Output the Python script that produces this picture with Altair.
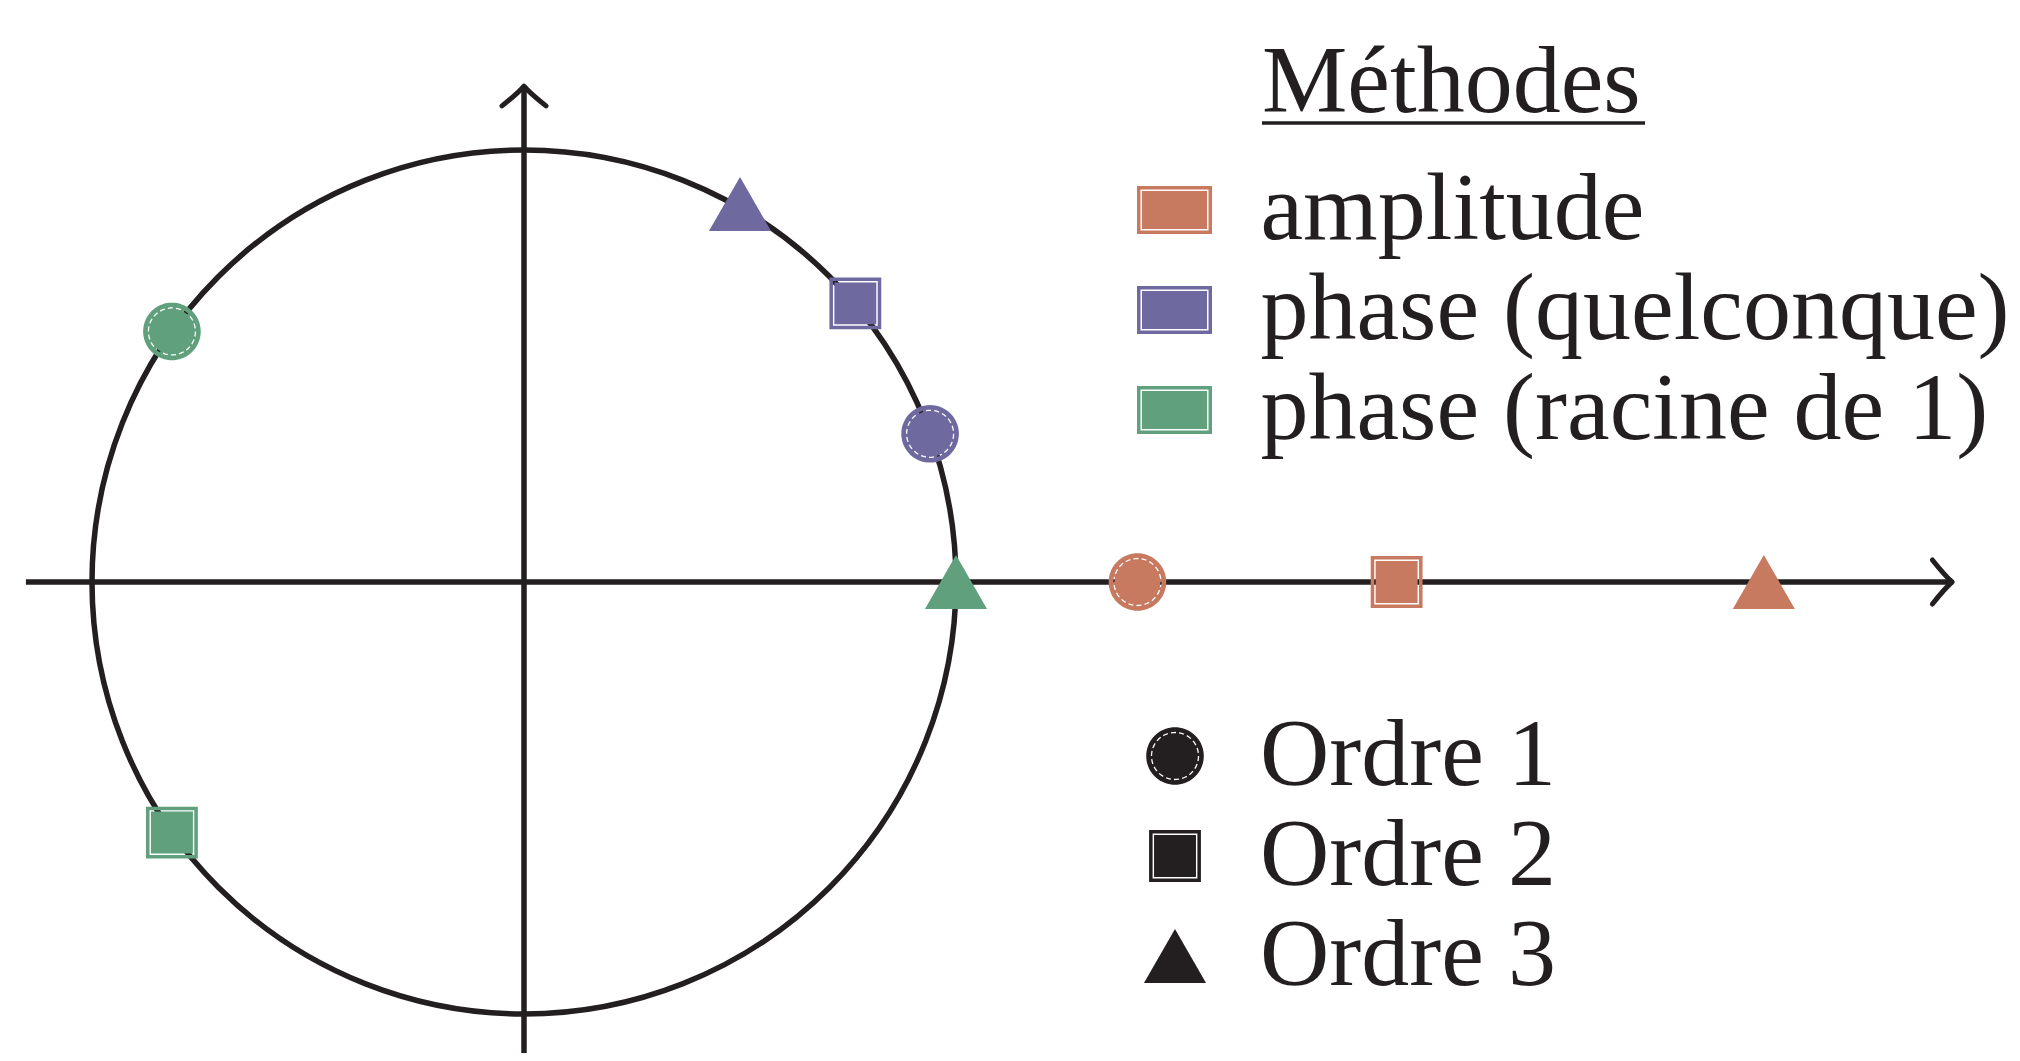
import altair as alt
import numpy as np
import pandas as pd

# ---- data (unit circle coordinates) ----
methodes = ["amplitude"] * 3 + ["phase (quelconque)"] * 3 + ["phase (racine de 1)"] * 3
ordres = ["Ordre 1", "Ordre 2", "Ordre 3"] * 3
x_vals = [1.42, 2.02, 2.87, 0.94, 0.767, 0.50, -0.815, -0.815, 1.00]
y_vals = [0.0, 0.0, 0.0, 0.343, 0.645, 0.875, 0.58, -0.58, 0.0]

methode_names = ["amplitude", "phase (quelconque)", "phase (racine de 1)"]
methode_colors = ["#c77a5f", "#6e699e", "#60a07c"]
ordre_names = ["Ordre 1", "Ordre 2", "Ordre 3"]

# axes extents (data units)
x_axis = [-1.153, 3.30]
y_axis = [-1.25, 1.142]
arrow_x = [3.306, 0.0]
arrow_y = [0.0, 1.148]
arrow_angle = [0, 270]

# ---- layout ----
W, H = 2004, 1045
R = 432.0                      # pixels per unit
cx, cy = 516.0, 574.0          # origin in plot pixels
x_dom = [-cx / R, (W - cx) / R]
y_dom = [(cy - H) / R, cy / R]
INK = "#231f20"
FONT = "Liberation Serif"
FS = 96

xs = alt.Scale(domain=x_dom, nice=False, zero=False)
ys = alt.Scale(domain=y_dom, nice=False, zero=False)


def f(v):
    return f"{v:.4f}".rstrip("0").rstrip(".")


def poly(pts):
    return "M" + "L".join(f"{f(a)},{f(b)}" for a, b in pts) + "Z"


# circle symbol with a dashed white inner ring (holes by opposite winding)
ang = np.linspace(0, 2 * np.pi, 73)[:-1]
rc = 0.9
circle_path = poly([(rc * np.cos(a), rc * np.sin(a)) for a in ang])
r1, r2 = 0.715, 0.755
nd = 18
for k in range(nd):
    a0 = 2 * np.pi * k / nd
    a1 = a0 + 2 * np.pi / nd * 0.62
    am = (a0 + a1) / 2
    pts = [(r2 * np.cos(a1), r2 * np.sin(a1)), (r2 * np.cos(am), r2 * np.sin(am)),
           (r2 * np.cos(a0), r2 * np.sin(a0)), (r1 * np.cos(a0), r1 * np.sin(a0)),
           (r1 * np.cos(am), r1 * np.sin(am)), (r1 * np.cos(a1), r1 * np.sin(a1))]
    circle_path += poly(pts)


def rect_with_line(hx, hy, inset, th):
    outer = f"M{f(-hx)},{f(-hy)}H{f(hx)}V{f(hy)}H{f(-hx)}Z"
    ax, ay = hx - inset, hy - inset
    ring = f"M{f(-ax)},{f(-ay)}V{f(ay)}H{f(ax)}V{f(-ay)}Z"
    bx, by = ax - th, ay - th
    inner = f"M{f(-bx)},{f(-by)}H{f(bx)}V{f(by)}H{f(-bx)}Z"
    return outer + ring + inner


square_path = rect_with_line(0.81, 0.81, 0.11, 0.045)
triangle_path = "M0,-0.84L0.97,0.84L-0.97,0.84Z"
swatch_path = rect_with_line(1.0, 0.64, 0.093, 0.04)
arrow_path = "M-0.9,-1Q-0.3,-0.25,0,0Q-0.3,0.25,-0.9,1"

pts_df = pd.DataFrame({"x": x_vals, "y": y_vals, "methode": methodes, "ordre": ordres})
origin_df = pd.DataFrame({"x": [0.0], "y": [0.0]})
axes_df = pd.DataFrame({
    "x": [x_axis[0], 0.0], "x2": [x_axis[1], 0.0],
    "y": [0.0, y_axis[0]], "y2": [0.0, y_axis[1]],
})
arrows_df = pd.DataFrame({"x": arrow_x, "y": arrow_y, "ang": arrow_angle})

circle = alt.Chart(origin_df).mark_point(
    shape="circle", filled=False, size=(2 * R) ** 2, stroke=INK, strokeWidth=5.5, opacity=1
).encode(x=alt.X("x:Q", scale=xs, axis=None), y=alt.Y("y:Q", scale=ys, axis=None))

axes = alt.Chart(axes_df).mark_rule(color=INK, strokeWidth=5.5).encode(
    x=alt.X("x:Q", scale=xs, axis=None), x2="x2:Q",
    y=alt.Y("y:Q", scale=ys, axis=None), y2="y2:Q",
)

arrows = alt.Chart(arrows_df).mark_point(
    shape=arrow_path, filled=False, size=44 ** 2, stroke=INK, strokeWidth=5,
    opacity=1, strokeCap="round", strokeJoin="round"
).encode(
    x=alt.X("x:Q", scale=xs, axis=None), y=alt.Y("y:Q", scale=ys, axis=None),
    angle=alt.Angle("ang:Q", scale=None),
)

points = alt.Chart(pts_df).mark_point(filled=True, size=64 ** 2, opacity=1, strokeWidth=0).encode(
    x=alt.X("x:Q", scale=xs, axis=None),
    y=alt.Y("y:Q", scale=ys, axis=None),
    color=alt.Color(
        "methode:N",
        scale=alt.Scale(domain=methode_names, range=methode_colors),
        legend=alt.Legend(
            title=None, orient="none", legendX=1118.5, legendY=154,
            symbolType=swatch_path, symbolSize=75 ** 2, symbolStrokeWidth=0, symbolOpacity=1,
            labelFont=FONT, labelFontSize=FS, labelColor=INK, labelOffset=38, labelLimit=0,
            rowPadding=4, padding=0,
        ),
    ),
    shape=alt.Shape(
        "ordre:N",
        scale=alt.Scale(domain=ordre_names, range=[circle_path, square_path, triangle_path]),
        legend=alt.Legend(
            title=None, orient="none", legendX=1119, legendY=700,
            symbolSize=64 ** 2, symbolFillColor=INK, symbolStrokeWidth=0, symbolOpacity=1,
            labelFont=FONT, labelFontSize=FS, labelColor=INK, labelOffset=37, labelLimit=0,
            rowPadding=4, padding=0,
        ),
    ),
)

title_text = alt.Chart(origin_df).mark_text(
    text="Méthodes", font=FONT, fontSize=FS, color=INK, align="left", baseline="alphabetic"
).encode(x=alt.value(1254), y=alt.value(104))

underline = alt.Chart(origin_df).mark_rule(color=INK, strokeWidth=3.5).encode(
    x=alt.value(1254), x2=alt.value(1637), y=alt.value(115)
)

chart = alt.layer(circle, axes, arrows, points, title_text, underline).properties(
    width=W, height=H, autosize="none", padding=0
).configure_view(stroke=None)

chart.save("out.html", embed_options={"renderer": "svg", "actions": False})
